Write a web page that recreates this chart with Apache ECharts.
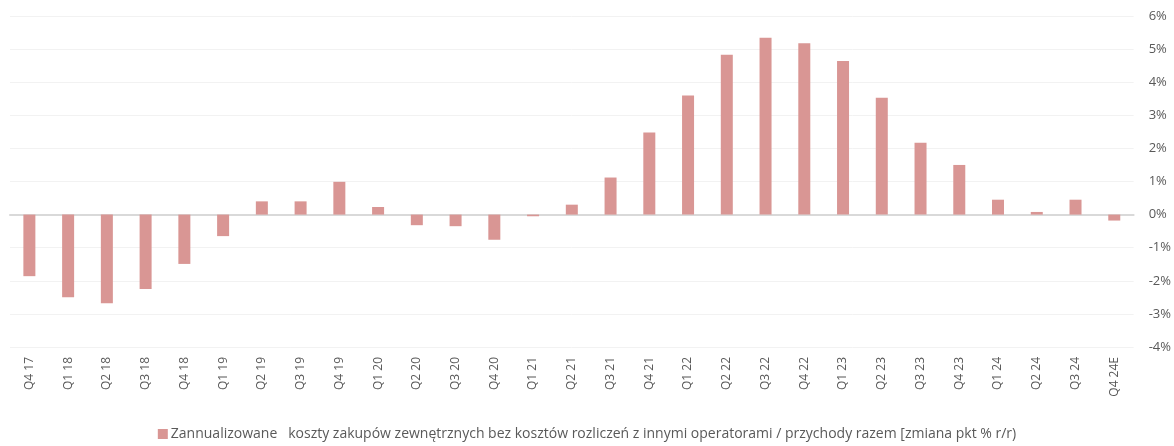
<!DOCTYPE html>
<html>
<head>
<meta charset="utf-8">
<script src="https://cdn.jsdelivr.net/npm/echarts@6/dist/echarts.min.js"></script>
<style>
  html, body { margin: 0; padding: 0; background: #fff; }
  #chart { width: 1174px; height: 446px; }
</style>
</head>
<body>
<div id="chart"></div>
<script>
// kwartały
var quarters = [
  'Q4 17',
  'Q1 18', 'Q2 18', 'Q3 18', 'Q4 18',
  'Q1 19', 'Q2 19', 'Q3 19', 'Q4 19',
  'Q1 20', 'Q2 20', 'Q3 20', 'Q4 20',
  'Q1 21', 'Q2 21', 'Q3 21', 'Q4 21',
  'Q1 22', 'Q2 22', 'Q3 22', 'Q4 22',
  'Q1 23', 'Q2 23', 'Q3 23', 'Q4 23',
  'Q1 24', 'Q2 24', 'Q3 24', 'Q4 24E'
];
// zmiana pkt % r/r
var costChange = [
  -1.86,
  -2.50, -2.68, -2.25, -1.49,
  -0.65, 0.40, 0.40, 0.99,
  0.23, -0.32, -0.35, -0.76,
  -0.05, 0.30, 1.12, 2.48,
  3.60, 4.83, 5.34, 5.18,
  4.64, 3.53, 2.17, 1.50,
  0.45, 0.08, 0.45, -0.18
];
var seriesName = 'Zannualizowane   koszty zakupów zewnętrznych bez kosztów rozliczeń z innymi operatorami / przychody razem [zmiana pkt % r/r)';

var chart = echarts.init(document.getElementById('chart'));
var textColor = '#595959';
var font = 'Open Sans';

chart.setOption({
  animation: false,
  textStyle: { fontFamily: font },
  grid: { left: 10, right: 40, top: 16, bottom: 99 },
  legend: {
    bottom: 0,
    left: 'center',
    itemWidth: 10,
    itemHeight: 10,
    itemGap: 4,
    icon: 'rect',
    textStyle: { color: textColor, fontSize: 14, fontFamily: font, padding: [0, 0, 0, -2] },
    data: [seriesName]
  },
  xAxis: [{
    type: 'category',
    data: quarters,
    position: 'bottom',
    axisLine: { show: false, onZero: false },
    axisTick: { show: false },
    axisLabel: {
      rotate: 90,
      interval: 0,
      margin: 10,
      color: textColor,
      fontSize: 12
    }
  }, {
    // linia zera
    type: 'category',
    data: quarters,
    position: 'top',
    axisLine: { show: true, onZero: true, lineStyle: { color: '#d9d9d9', width: 2 } },
    axisTick: { show: false },
    axisLabel: { show: false }
  }],
  yAxis: {
    type: 'value',
    position: 'right',
    min: -4,
    max: 6,
    interval: 1,
    axisLine: { show: false },
    axisTick: { show: false },
    axisLabel: {
      color: textColor,
      fontSize: 13,
      margin: 15,
      align: 'left',
      formatter: function (v) { return v + '%'; }
    },
    splitLine: { lineStyle: { color: '#f2f2f2', width: 1 } }
  },
  series: [{
    name: seriesName,
    type: 'bar',
    data: costChange,
    barWidth: 12,
    itemStyle: { color: '#d99694' }
  }]
});
</script>
</body>
</html>
